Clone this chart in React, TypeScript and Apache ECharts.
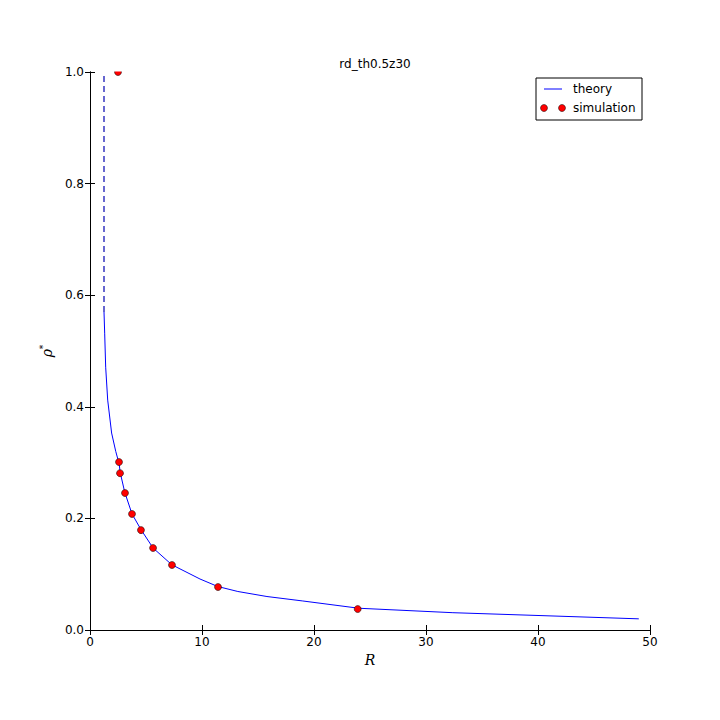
import React, { useEffect, useRef } from "react";
import * as echarts from "echarts";

const theoryR = [1.25, 1.31, 1.4, 1.58, 1.93, 2.3, 2.6, 2.7, 3.1, 3.75, 4.55, 5.63, 7.3, 9.82, 11.4, 13.2, 15.8, 19, 24, 32.4, 40, 49];
const theoryRho = [0.57, 0.532, 0.471, 0.412, 0.353, 0.32, 0.298, 0.282, 0.247, 0.208, 0.18, 0.147, 0.117, 0.0914, 0.078, 0.069, 0.06, 0.052, 0.039, 0.031, 0.026, 0.02];
const dashR = [1.25, 1.25];
const dashRho = [0.57, 1.0];
const simR = [2.5, 2.59, 2.68, 3.125, 3.75, 4.55, 5.63, 7.32, 11.43, 23.9];
const simRho = [1.0, 0.301, 0.281, 0.2455, 0.208, 0.179, 0.147, 0.1165, 0.077, 0.0376];
const xTicks = [0, 10, 20, 30, 40, 50];
const yTicks = [0, 0.2, 0.4, 0.6, 0.8, 1.0];

const FONT = "DejaVu Sans";

export default function App() {
  const ref = useRef<HTMLDivElement>(null);
  useEffect(() => {
    if (!ref.current) return;
    const chart = echarts.init(ref.current, undefined, { renderer: "svg" });
    const tickCommon = {
      axisLine: { show: true, lineStyle: { color: "#000", width: 1 } },
      axisTick: { show: true, inside: true, length: 5, lineStyle: { color: "#000", width: 1 } },
      splitLine: { show: false },
    };
    const xAxisBase = {
      type: "value" as const,
      min: xTicks[0],
      max: xTicks[xTicks.length - 1],
      interval: xTicks[1] - xTicks[0],
      ...tickCommon,
    };
    const yAxisBase = {
      type: "value" as const,
      min: yTicks[0],
      max: yTicks[yTicks.length - 1],
      interval: 0.2,
      ...tickCommon,
    };
    chart.setOption({
      animation: false,
      backgroundColor: "#fff",
      title: {
        text: "rd_th0.5z30",
        left: 370,
        top: 53,
        textAlign: "center",
        textStyle: { fontFamily: FONT, fontSize: 12, fontWeight: "normal", color: "#000" },
      },
      grid: { left: 90, right: 70, top: 72, bottom: 90 },
      xAxis: [
        {
          ...xAxisBase,
          position: "bottom",
          axisLabel: { color: "#000", fontFamily: FONT, fontSize: 12, margin: 6 },
          name: "R",
          nameLocation: "middle",
          nameGap: 15,
          nameTextStyle: { fontFamily: "DejaVu Serif", fontStyle: "italic", fontSize: 14, color: "#000" },
        },
        { ...xAxisBase, position: "top", axisLabel: { show: false } },
      ],
      yAxis: [
        {
          ...yAxisBase,
          position: "left",
          axisLabel: {
            color: "#000",
            fontFamily: FONT,
            fontSize: 12,
            margin: 6,
            formatter: (v: number) => v.toFixed(1),
          },
          name: "{r|ρ}{s|*}",
          nameLocation: "middle",
          nameGap: 31,
          nameRotate: 90,
          nameTextStyle: {
            rich: {
              r: { fontFamily: "DejaVu Serif", fontStyle: "italic", fontSize: 14, color: "#000" },
              s: { fontFamily: "DejaVu Serif", fontSize: 9, color: "#000", verticalAlign: "top", padding: [0, 0, 8, 0] },
            },
          },
        },
        { ...yAxisBase, position: "right", axisLabel: { show: false } },
      ],
      series: [
        {
          type: "line",
          name: "theory",
          data: theoryR.map((r, i) => [r, theoryRho[i]]),
          showSymbol: false,
          symbol: "none",
          lineStyle: { color: "#0000ff", width: 1 },
          z: 2,
        },
        {
          type: "line",
          name: "theory-dash",
          data: dashR.map((r, i) => [r, dashRho[i]]),
          showSymbol: false,
          symbol: "none",
          lineStyle: { color: "#0000b0", width: 1.2, type: [6, 4] },
          z: 2,
        },
        {
          type: "scatter",
          name: "simulation",
          data: simR.map((r, i) => [r, simRho[i]]),
          symbol: "circle",
          symbolSize: 7,
          itemStyle: { color: "#ff0000", borderColor: "#000", borderWidth: 0.5, opacity: 1 },
          clip: true,
          z: 3,
        },
      ],
      graphic: [
        {
          // white mask: markers are clipped at the top edge of the axes
          type: "rect",
          shape: { x: 91, y: 62, width: 60, height: 9.4 },
          style: { fill: "#fff" },
          z: 100,
        },
        {
          type: "rect",
          shape: { x: 536, y: 78, width: 106, height: 42 },
          style: { fill: "#fff", stroke: "#000", lineWidth: 1 },
          z: 10,
        },
        {
          type: "line",
          shape: { x1: 544, y1: 89, x2: 562, y2: 89 },
          style: { stroke: "#0000ff", lineWidth: 1 },
          z: 11,
        },
        {
          type: "text",
          x: 573,
          y: 89,
          style: { text: "theory", fontFamily: FONT, fontSize: 12, fill: "#000", verticalAlign: "middle", align: "left" },
          z: 11,
        },
        {
          type: "circle",
          shape: { cx: 544, cy: 108, r: 3.5 },
          style: { fill: "#ff0000", stroke: "#000", lineWidth: 0.5 },
          z: 11,
        },
        {
          type: "circle",
          shape: { cx: 562, cy: 108, r: 3.5 },
          style: { fill: "#ff0000", stroke: "#000", lineWidth: 0.5 },
          z: 11,
        },
        {
          type: "text",
          x: 573,
          y: 108,
          style: { text: "simulation", fontFamily: FONT, fontSize: 12, fill: "#000", verticalAlign: "middle", align: "left" },
          z: 11,
        },
      ],
    });
    return () => chart.dispose();
  }, []);
  return (
    <div
      ref={ref}
      style={{ position: "fixed", left: 0, top: 0, width: 720, height: 720, background: "#fff" }}
    />
  );
}
